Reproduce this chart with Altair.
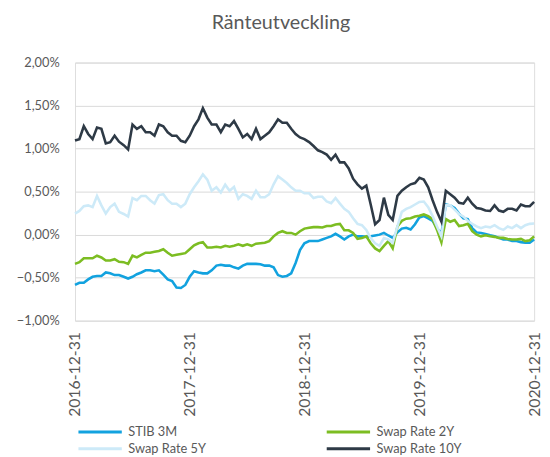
import altair as alt
import pandas as pd

series_names = ["STIB 3M", "Swap Rate 2Y", "Swap Rate 5Y", "Swap Rate 10Y"]
colors = ["#12a2df", "#7cbd22", "#cdeaf8", "#2e3a46"]
y_ticks = [-1.0, -0.5, 0.0, 0.5, 1.0, 1.5, 2.0]

stib = [
    -0.585, -0.56, -0.56, -0.52, -0.49, -0.48, -0.48, -0.44, -0.45, -0.47,
    -0.47, -0.49, -0.51, -0.49, -0.46, -0.44, -0.415, -0.415, -0.425, -0.415,
    -0.465, -0.52, -0.54, -0.615, -0.62, -0.585, -0.49, -0.425, -0.44, -0.45,
    -0.45, -0.415, -0.36, -0.35, -0.36, -0.36, -0.38, -0.395, -0.36, -0.34,
    -0.34, -0.34, -0.345, -0.36, -0.36, -0.38, -0.47, -0.49, -0.48, -0.45,
    -0.33, -0.18, -0.10, -0.075, -0.075, -0.075, -0.057, -0.038, -0.02, 0.01,
    -0.02, -0.057, -0.02, 0.0, -0.02, -0.02, -0.026, -0.02, -0.01, 0.0,
    0.02, -0.01, -0.038, 0.026, 0.07, 0.08, 0.06, 0.12, 0.20, 0.215,
    0.19, 0.16, 0.075, 0.01, 0.35, 0.34, 0.31, 0.245, 0.19, 0.18,
    0.075, 0.026, 0.02, 0.008, -0.008, -0.02, -0.038, -0.057, -0.057, -0.075,
    -0.075, -0.087, -0.094, -0.094, -0.057,
]

swap2 = [
    -0.34, -0.32, -0.275, -0.275, -0.275, -0.245, -0.265, -0.30, -0.30, -0.285,
    -0.315, -0.32, -0.34, -0.245, -0.265, -0.235, -0.21, -0.21, -0.20, -0.19,
    -0.17, -0.21, -0.245, -0.235, -0.225, -0.215, -0.17, -0.125, -0.10, -0.087,
    -0.15, -0.15, -0.14, -0.15, -0.13, -0.14, -0.13, -0.113, -0.13, -0.113,
    -0.13, -0.105, -0.10, -0.095, -0.075, -0.02, 0.02, 0.04, 0.02, 0.02,
    0.00, 0.04, 0.07, 0.08, 0.087, 0.087, 0.083, 0.10, 0.10, 0.117,
    0.125, 0.05, 0.05, 0.02, -0.05, -0.04, -0.02, -0.10, -0.16, -0.19,
    -0.13, -0.075, -0.16, 0.095, 0.16, 0.185, 0.19, 0.21, 0.22, 0.235,
    0.215, 0.18, 0.055, -0.09, 0.18, 0.15, 0.17, 0.10, 0.11, 0.125,
    0.04, 0.00, -0.02, -0.008, -0.02, -0.026, -0.038, -0.038, -0.05, -0.057,
    -0.057, -0.05, -0.075, -0.065, -0.02,
]

swap5 = [
    0.245, 0.275, 0.33, 0.34, 0.32, 0.45, 0.34, 0.245, 0.32, 0.36,
    0.265, 0.24, 0.21, 0.425, 0.40, 0.45, 0.45, 0.40, 0.36, 0.46,
    0.47, 0.40, 0.36, 0.36, 0.32, 0.36, 0.47, 0.55, 0.62, 0.70,
    0.64, 0.51, 0.55, 0.49, 0.58, 0.51, 0.555, 0.415, 0.47, 0.45,
    0.415, 0.51, 0.435, 0.435, 0.47, 0.585, 0.68, 0.64, 0.60, 0.55,
    0.51, 0.51, 0.48, 0.48, 0.425, 0.44, 0.44, 0.385, 0.365, 0.425,
    0.36, 0.30, 0.265, 0.19, 0.125, 0.11, 0.055, -0.04, -0.10, -0.13,
    -0.04, -0.055, -0.095, 0.095, 0.265, 0.30, 0.32, 0.35, 0.38, 0.385,
    0.32, 0.215, 0.095, -0.02, 0.34, 0.34, 0.29, 0.24, 0.21, 0.16,
    0.125, 0.095, 0.075, 0.095, 0.085, 0.11, 0.075, 0.055, 0.095, 0.075,
    0.11, 0.075, 0.11, 0.125, 0.13,
]

swap10 = [
    1.094, 1.11, 1.26, 1.17, 1.11, 1.245, 1.23, 1.06, 1.075, 1.15,
    1.08, 1.04, 0.99, 1.28, 1.23, 1.26, 1.19, 1.19, 1.15, 1.28,
    1.26, 1.19, 1.15, 1.15, 1.09, 1.075, 1.15, 1.26, 1.34, 1.47,
    1.36, 1.28, 1.28, 1.19, 1.28, 1.26, 1.32, 1.23, 1.13, 1.17,
    1.11, 1.23, 1.11, 1.15, 1.19, 1.26, 1.34, 1.30, 1.30, 1.23,
    1.17, 1.13, 1.11, 1.075, 1.03, 0.98, 0.96, 0.93, 0.87, 0.93,
    0.84, 0.84, 0.77, 0.65, 0.585, 0.535, 0.57, 0.35, 0.12, 0.17,
    0.43, 0.23, 0.17, 0.45, 0.51, 0.55, 0.585, 0.60, 0.66, 0.64,
    0.55, 0.40, 0.265, 0.15, 0.51, 0.47, 0.43, 0.37, 0.36, 0.43,
    0.36, 0.31, 0.30, 0.28, 0.275, 0.34, 0.28, 0.265, 0.30, 0.30,
    0.28, 0.35, 0.33, 0.33, 0.38,
]

start = pd.Timestamp("2016-12-31")
n = len(stib)
dates = [(start + pd.Timedelta(days=round(k * 1461 / (n - 1)))).strftime("%Y-%m-%d")
         for k in range(n)]

rows = []
for name, vals in zip(series_names, [stib, swap2, swap5, swap10]):
    for d, v in zip(dates, vals):
        rows.append({"date": d, "series": name, "value": v})
df = pd.DataFrame(rows)

font = "Lato"
grey = "#595959"

x_ticks = [alt.DateTime(year=y, month=12, date=31, utc=True) for y in range(2016, 2021)]

chart = alt.Chart(df).mark_line(strokeWidth=2.6).encode(
    x=alt.X("date:T",
            scale=alt.Scale(type="utc", domain=[x_ticks[0], x_ticks[-1]]),
            axis=alt.Axis(values=x_ticks, labelExpr="utcFormat(datum.value, '%Y-%m-%d')",
                          labelAngle=270, grid=False, domain=False, ticks=False,
                          labelFontSize=16, labelColor=grey, labelFont=font,
                          labelPadding=11, title=None)),
    y=alt.Y("value:Q",
            scale=alt.Scale(domain=[-1, 2], nice=False, zero=False),
            axis=alt.Axis(values=y_ticks,
                          labelExpr="replace(format(datum.value, '.2f'), '.', ',') + '%'",
                          grid=True, gridColor="#d9d9d9", gridWidth=1,
                          domain=False, ticks=False, labelFontSize=13, labelColor=grey,
                          labelFont=font, labelPadding=16, title=None)),
    color=alt.Color("series:N",
                    scale=alt.Scale(domain=series_names, range=colors),
                    legend=alt.Legend(title=None, orient="none", legendX=2, legendY=368,
                                      direction="horizontal", columns=2,
                                      columnPadding=116, rowPadding=3, padding=0,
                                      symbolType="M-1,0H7", symbolSize=121,
                                      symbolStrokeWidth=3, labelFontSize=13,
                                      labelColor=grey, labelFont=font, labelOffset=38)),
).properties(
    width=466,
    height=262,
    title=alt.TitleParams("Ränteutveckling", fontSize=20, color=grey, font=font,
                          fontWeight="normal", offset=24, dx=-24),
    autosize=alt.AutoSizeParams(type="none"),
    padding={"left": 68, "top": 52, "right": 8, "bottom": 135},
).configure_view(stroke=None).configure(background="white")

chart.save("out.html", embed_options={"renderer": "svg", "actions": False})
